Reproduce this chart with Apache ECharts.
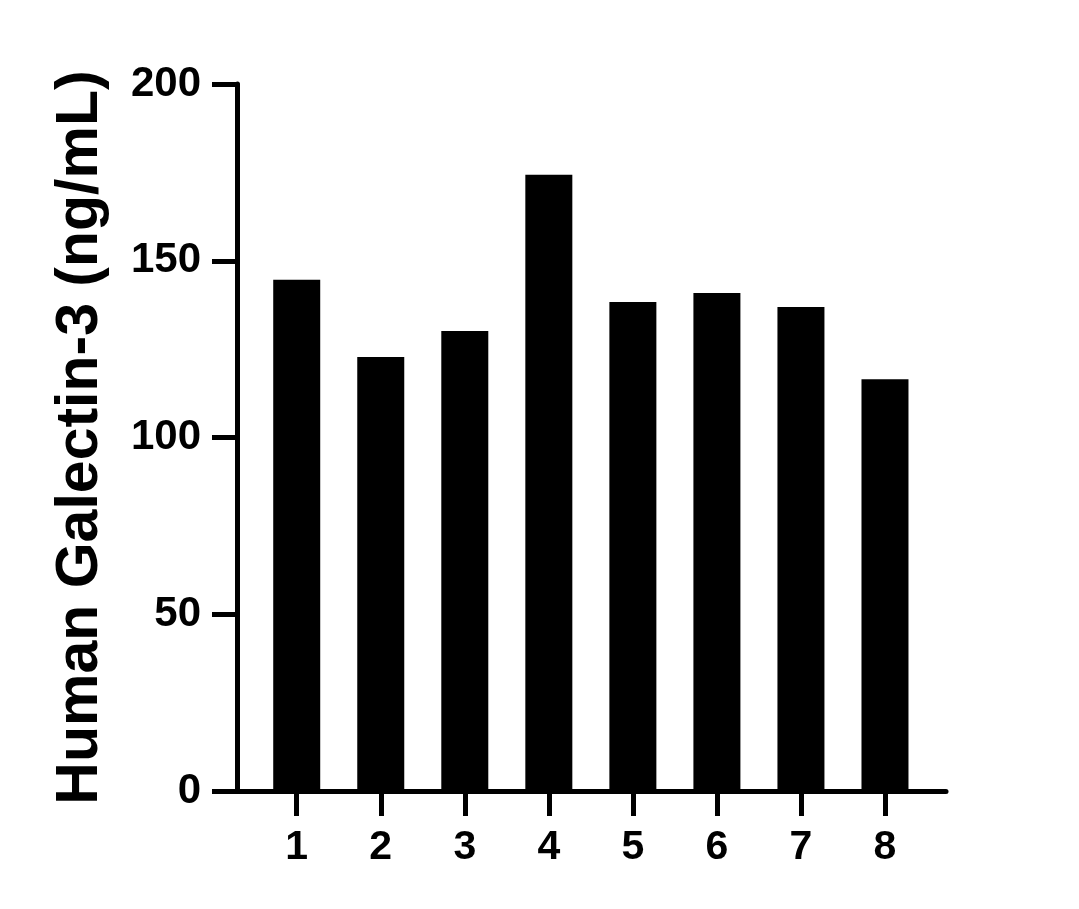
<!DOCTYPE html>
<html lang="en">
<head>
    <meta charset="UTF-8">
    <title>Human Galectin-3</title>
    <script src="https://cdn.jsdelivr.net/npm/echarts@6/dist/echarts.min.js"></script>
    <style>
        html, body { margin: 0; padding: 0; background: #fff; }
        #chart { width: 1079px; height: 909px; }
    </style>
</head>
<body>
<div id="chart"></div>

<script type="text/javascript">
    // sample groups and measured values (ng/mL)
    var categories = ['1', '2', '3', '4', '5', '6', '7', '8'];
    var values = [144.6, 122.8, 130.1, 174.3, 138.3, 140.9, 136.9, 116.5];
    var yTicks = [0, 50, 100, 150, 200];

    var axisFont = 'Liberation Sans, Arial, sans-serif';
    var lw = 5;

    var chart = echarts.init(document.getElementById('chart'));
    var option = {
        animation: false,
        backgroundColor: '#fff',
        grid: [
            // outer frame: y axis and full x axis line
            { left: 237, right: 133, top: 84, bottom: 118 },
            // inner: category bands for the bars
            { left: 254.7, right: 152, top: 84, bottom: 118 }
        ],
        xAxis: [
            {
                gridIndex: 0,
                type: 'value',
                min: 0,
                max: 1,
                axisLine: { show: true, onZero: false, lineStyle: { color: '#000', width: lw } },
                axisTick: { show: false },
                axisLabel: { show: false },
                splitLine: { show: false }
            },
            {
                gridIndex: 1,
                type: 'category',
                data: categories,
                axisLine: { show: false },
                axisTick: {
                    show: true,
                    alignWithLabel: true,
                    length: 25,
                    lineStyle: { color: '#000', width: lw }
                },
                axisLabel: {
                    margin: 36,
                    color: '#000',
                    fontSize: 41,
                    fontWeight: 'bold',
                    fontFamily: axisFont
                }
            }
        ],
        yAxis: [
            {
                gridIndex: 0,
                type: 'value',
                min: yTicks[0],
                max: yTicks[yTicks.length - 1],
                interval: 50,
                name: 'Human Galectin-3 (ng/mL)',
                nameLocation: 'middle',
                nameGap: 127,
                nameTextStyle: {
                    color: '#000',
                    fontSize: 59,
                    fontWeight: 'bold',
                    fontFamily: axisFont
                },
                axisLine: { show: true, lineStyle: { color: '#000', width: lw } },
                axisTick: { show: true, length: 25, lineStyle: { color: '#000', width: lw } },
                axisLabel: {
                    margin: 36,
                    color: '#000',
                    fontSize: 42,
                    fontWeight: 'bold',
                    fontFamily: axisFont
                },
                splitLine: { show: false }
            },
            {
                gridIndex: 1,
                type: 'value',
                min: yTicks[0],
                max: yTicks[yTicks.length - 1],
                show: false
            }
        ],
        series: [{
            type: 'bar',
            xAxisIndex: 1,
            yAxisIndex: 1,
            data: values,
            barWidth: 47,
            itemStyle: { color: '#000' }
        }]
    };
    chart.setOption(option);
</script>
</body>
</html>
